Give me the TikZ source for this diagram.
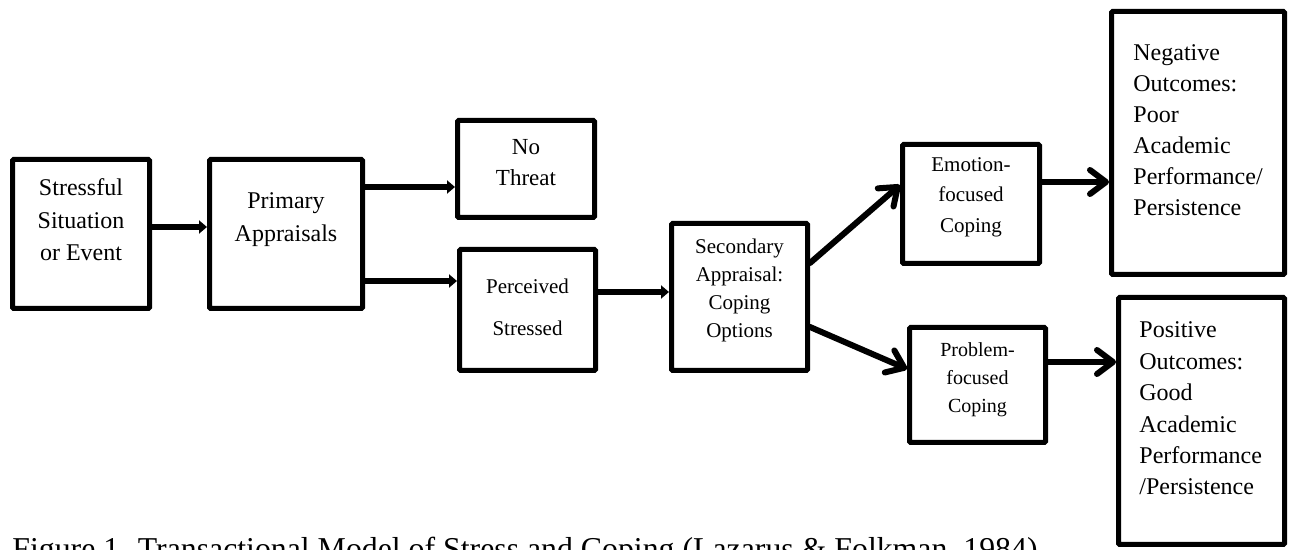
\documentclass[tikz,border=0pt]{standalone}
\usepackage{fontspec}
\setmainfont{Liberation Serif}
\usetikzlibrary{arrows.meta}
\begin{document}
\begin{tikzpicture}[x=0.5pt,y=-0.5pt,
  box/.style={draw=black,line width=2.5pt,inner sep=0pt,outer sep=1.25pt,rounded corners=0.6pt},
  txt/.style={inner sep=0pt,align=center},
  smallarr/.style={line width=2.6pt,-{Triangle[length=4pt,width=6.5pt]}},
  bigarr/.style={line width=3pt,line cap=round,-{Straight Barb[length=8pt,width=12pt,line width=3pt,line cap=round,line join=round]}}]
\clip (0,0) rectangle (1292,550);
\fill[white] (0,0) rectangle (1292,550);
% boxes
\node[box,minimum width=68.5pt,minimum height=74.5pt] (b1) at (81,234) {};
\node[box,minimum width=76.5pt,minimum height=74.5pt] (b2) at (286,234) {};
\node[box,minimum width=68.5pt,minimum height=48.5pt] (b3) at (526,169) {};
\node[box,minimum width=68pt,minimum height=60.5pt] (b4) at (527.5,310) {};
\node[box,minimum width=68pt,minimum height=73.5pt] (b5) at (739.5,297) {};
\node[box,minimum width=68.5pt,minimum height=59.5pt] (b6) at (971,204) {};
\node[box,minimum width=86.5pt,minimum height=131.5pt] (b7) at (1198,143) {};
\node[box,minimum width=68pt,minimum height=57.5pt] (b8) at (977.5,385) {};
\node[box,minimum width=83pt,minimum height=123.5pt] (b9) at (1201.5,421) {};
% texts
\node[txt,font=\fontsize{12pt}{16.25pt}\selectfont] (t1) at (81,220) {Stressful\\Situation\\or Event};
\node[txt,font=\fontsize{12pt}{16.5pt}\selectfont] (t2) at (286,219.5) {Primary\\Appraisals};
\node[txt,font=\fontsize{11.5pt}{15.5pt}\selectfont] (t3) at (526,162.5) {No\\Threat};
\node[txt,font=\fontsize{10.5pt}{21pt}\selectfont] (t4) at (527.5,307) {Perceived\\Stressed};
\node[txt,font=\fontsize{10.5pt}{14pt}\selectfont] (t5) at (739.5,290) {Secondary\\Appraisal:\\Coping\\Options};
\node[txt,font=\fontsize{10.5pt}{15.25pt}\selectfont] (t6) at (971,197) {Emotion-\\focused\\Coping};
\node[txt,align=left,anchor=west,font=\fontsize{12pt}{15.5pt}\selectfont] (t7) at (1133,130.5) {Negative\\Outcomes:\\Poor\\Academic\\Performance/\\Persistence};
\node[txt,font=\fontsize{10pt}{14pt}\selectfont] (t8) at (977.5,380) {Problem-\\focused\\Coping};
\node[txt,align=left,anchor=west,font=\fontsize{12pt}{15.7pt}\selectfont] (t9) at (1139,408.5) {Positive\\Outcomes:\\Good\\Academic\\Performance\\/Persistence};
\node[inner sep=0pt,anchor=base west,font=\fontsize{15.9pt}{18pt}\selectfont] (cap) at (12,559.5) {Figure 1. Transactional Model of Stress and Coping (Lazarus \& Folkman, 1984)};
% connectors
\draw[smallarr] ([yshift=3.5pt]b1.east) coordinate (s1) -- (s1 -| b2.west);
\draw[smallarr] ([yshift=23.5pt]b2.east) coordinate (s2) -- (s2 -| b3.west);
\draw[smallarr] ([yshift=-23.5pt]b2.east) coordinate (s3) -- (s3 -| b4.west);
\draw[smallarr] ([yshift=9pt]b4.east) coordinate (s4) -- (s4 -| b5.west);
\draw[bigarr] ([yshift=17pt]b5.east) -- ([yshift=9.5pt]b6.west);
\draw[bigarr] ([yshift=-15pt]b5.east) -- ([yshift=8pt]b8.west);
\draw[bigarr] ([yshift=11pt]b6.east) coordinate (s7) -- (s7 -| b7.west);
\draw[bigarr] ([yshift=11.5pt]b8.east) coordinate (s8) -- (s8 -| b9.west);
\end{tikzpicture}
\end{document}
